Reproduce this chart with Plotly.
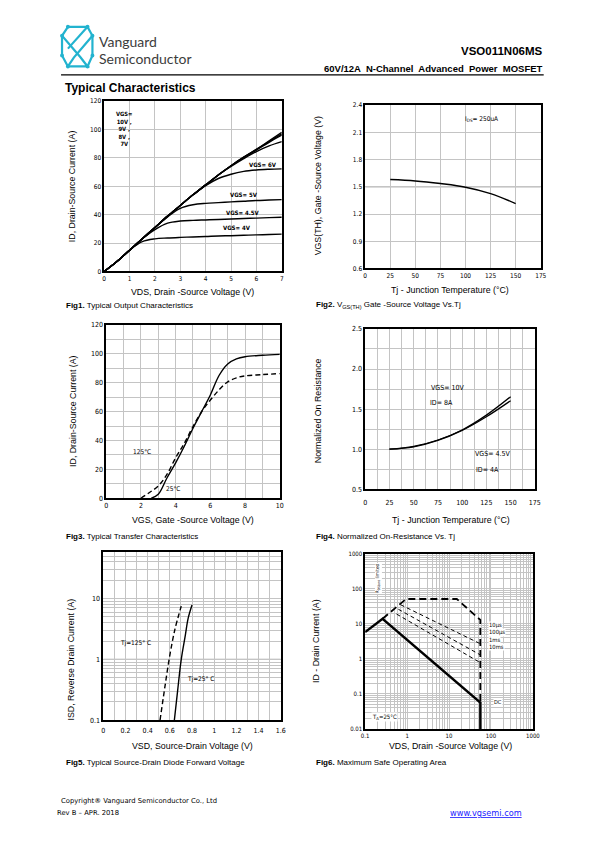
import plotly.graph_objects as go

PAGE_W, PAGE_H = 595, 842
OFF = 8  # default body margin of the written page
W, H = PAGE_W - 2 * OFF, PAGE_H - 2 * OFF

# ---------------- data ----------------
# Fig1 Typical Output Characteristics
f1_vds = [0, 0.5, 1, 1.5, 2, 2.5, 3, 3.5, 4, 4.5, 5, 5.5, 6, 6.5, 7]
f1_id_10v = [0, 7, 15, 23, 31, 39, 46.5, 54, 61, 68, 74.5, 80.5, 86, 92, 98]
f1_id_9v = [0, 7, 15, 23, 31, 39, 46.5, 54, 61, 68, 74.5, 80.5, 86, 91.5, 97]
f1_id_8v = [0, 7, 15, 23, 31, 39, 46.5, 54, 61, 68, 74.5, 80.3, 85.5, 91, 96]
f1_id_7v = [0, 7, 15, 23, 31, 39, 46.5, 54, 61, 68, 74, 79.5, 84.5, 88.5, 91.5]
f1_id_6v = [0, 7, 15, 23, 31, 39, 46.5, 54, 60.5, 65.5, 68.5, 70.5, 71.5, 72, 72.3]
f1_id_5v = [0, 7, 15, 23, 31, 38.5, 44.5, 47, 48, 48.5, 49, 49.5, 50, 50.3, 50.6]
f1_id_45v = [0, 7, 15, 23, 29.5, 34, 35.5, 36, 36.3, 36.6, 37, 37.3, 37.6, 37.9, 38.2]
f1_id_4v = [0, 7, 15, 21, 23, 23.6, 24, 24.3, 24.6, 25, 25.2, 25.5, 25.8, 26, 26.3]

# Fig2 VGS(TH) vs Tj
f2_tj = [25, 50, 75, 100, 125, 150]
f2_vth = [1.58, 1.565, 1.535, 1.495, 1.425, 1.315]

# Fig3 Transfer characteristics
f3_vgs_25 = [2.6, 3, 3.5, 4, 4.5, 5, 5.5, 6, 6.5, 7, 7.5, 8, 9, 10]
f3_id_25 = [0, 2.7, 14, 24.5, 36, 48.5, 60, 71.5, 85, 93, 96.5, 98, 99, 99.6]
f3_vgs_125 = [2, 2.5, 3, 3.5, 4, 4.5, 5, 5.5, 6, 6.5, 7, 7.5, 8, 9, 10]
f3_id_125 = [0, 4, 8.5, 16.5, 28, 38, 49.7, 60, 68, 75, 80.6, 83.4, 84.7, 85.6, 86.3]

# Fig4 Normalized on-resistance
f4_tj = [25, 50, 75, 100, 125, 150]
f4_r_10v = [1.0, 1.035, 1.115, 1.24, 1.425, 1.655]
f4_r_45v = [1.0, 1.03, 1.11, 1.235, 1.405, 1.605]

# Fig5 Source-drain diode forward voltage
f5_vsd_125 = [0.512, 0.55, 0.594, 0.644, 0.703]
f5_isd_125 = [0.1, 0.3, 1, 3, 7.5]
f5_vsd_25 = [0.641, 0.67, 0.703, 0.74, 0.765, 0.8]
f5_isd_25 = [0.1, 0.3, 1, 2.5, 4.7, 7.8]

# Fig6 Safe operating area
f6_dc_v = [0.1, 0.26, 55.7, 55.7]
f6_dc_i = [5.8, 13.9, 0.057, 0.01]
f6_10us_v = [0.26, 0.94, 15.3, 55.7, 55.7]
f6_10us_i = [13.9, 51, 51, 12.9, 0.06]
f6_100us_v = [0.70, 55.7]
f6_100us_i = [35, 2.7]
f6_1ms_v = [0.62, 55.7]
f6_1ms_i = [26, 1.3]
f6_10ms_v = [0.56, 55.7]
f6_10ms_i = [19, 0.78]

# ---------------- helpers ----------------
def px(x):
    return (x - OFF) / W


def py(y):
    return 1 - (y - OFF) / H


NARROW = "Liberation Sans Narrow, DejaVu Sans Condensed, Arial Narrow, sans-serif"
SANS = "Liberation Sans, Arial, sans-serif"
GRID = "#c4c4c4"

fig = go.Figure()


def line(x, y, ax, dash="solid", width=1.4, shape="spline"):
    fig.add_trace(go.Scatter(
        x=x, y=y, xaxis="x" + ax, yaxis="y" + ax, mode="lines",
        line=dict(color="black", width=width, dash=dash, shape=shape),
        showlegend=False, hoverinfo="skip"))


for series in [f1_id_10v, f1_id_9v, f1_id_8v, f1_id_7v, f1_id_6v,
               f1_id_5v, f1_id_45v, f1_id_4v]:
    line(f1_vds, series, "")

line(f2_tj, f2_vth, "2", width=1.5)

line(f3_vgs_25, f3_id_25, "3", width=1.4)
line(f3_vgs_125, f3_id_125, "3", dash="5px,3px", width=1.4)

line(f4_tj, f4_r_10v, "4", width=1.3)
line(f4_tj, f4_r_45v, "4", width=1.3)

line(f5_vsd_125, f5_isd_125, "5", dash="5px,3px", width=1.4)
line(f5_vsd_25, f5_isd_25, "5", width=1.4)

line(f6_dc_v, f6_dc_i, "6", width=2.4, shape="linear")
line(f6_10us_v, f6_10us_i, "6", dash="7px,4px", width=1.8, shape="linear")
line(f6_100us_v, f6_100us_i, "6", dash="4px,3px", width=1.0, shape="linear")
line(f6_1ms_v, f6_1ms_i, "6", dash="4px,3px", width=1.0, shape="linear")
line(f6_10ms_v, f6_10ms_i, "6", dash="4px,3px", width=1.0, shape="linear")


def mkaxis(dom, rng, anchor, tickfont=7, **kw):
    d = dict(domain=dom, range=rng, anchor=anchor, showline=True, mirror=True,
             linecolor="black", linewidth=1.5, showgrid=True, gridcolor=GRID,
             gridwidth=1, zeroline=False, ticks="",
             tickfont=dict(family=NARROW, size=tickfont, color="black"))
    d.update(kw)
    return d


layout = dict(
    width=W, height=H, margin=dict(l=0, r=0, t=0, b=0),
    paper_bgcolor="white", plot_bgcolor="white", showlegend=False,
)

# Fig1
layout["xaxis"] = mkaxis([px(102), px(283)], [0, 7], "y", 6.5, dtick=1)
layout["yaxis"] = mkaxis([py(270), py(98)], [0, 120], "x", 6.5, dtick=20)
# Fig2
layout["xaxis2"] = mkaxis([px(368), px(547)], [0, 175], "y2", 6.5, dtick=25)
layout["yaxis2"] = mkaxis([py(267), py(102)], [0.6, 2.4], "x2", 6.5, dtick=0.3,
                          tickformat=".1f")
# Fig3
layout["xaxis3"] = mkaxis([px(104), px(281)], [0, 10], "y3", 7, dtick=2,
                          minor=dict(dtick=1, showgrid=True, gridcolor=GRID))
layout["yaxis3"] = mkaxis([py(499), py(324)], [0, 120], "x3", 7, dtick=20,
                          minor=dict(dtick=10, showgrid=True, gridcolor=GRID))
# Fig4
layout["xaxis4"] = mkaxis([px(368), px(541)], [0, 175], "y4", 7, dtick=25,
                          minor=dict(dtick=12.5, showgrid=True, gridcolor=GRID),
                          ticklabelstandoff=6)
layout["yaxis4"] = mkaxis([py(490), py(328)], [0.5, 2.5], "x4", 7, dtick=0.5,
                          tickformat=".1f",
                          minor=dict(dtick=0.25, showgrid=True, gridcolor=GRID))
# Fig5
layout["xaxis5"] = mkaxis([px(101), px(282)], [0, 1.6], "y5", 7, dtick=0.2,
                          minor=dict(dtick=0.1, showgrid=True, gridcolor=GRID),
                          ticklabelstandoff=3)
layout["yaxis5"] = mkaxis([py(723), py(553)], [-1, 1.77], "x5", 7, type="log",
                          tickvals=[0.1, 1, 10], ticktext=["0.1", "1", "10"],
                          minor=dict(dtick="D1", showgrid=True, gridcolor=GRID))
# Fig6
layout["xaxis6"] = mkaxis([px(368), px(539)], [-1, 3], "y6", 6, type="log",
                          tickvals=[0.1, 1, 10, 100, 1000],
                          ticktext=["0.1", "1", "10", "100", "1000"],
                          minor=dict(dtick="D1", showgrid=True, gridcolor=GRID),
                          ticklabelstandoff=0)
layout["yaxis6"] = mkaxis([py(732), py(555)], [-2, 3], "x6", 6, type="log",
                          tickvals=[0.01, 0.1, 1, 10, 100, 1000],
                          ticktext=["0.01", "0.1", "1", "10", "100", "1000"],
                          minor=dict(dtick="D1", showgrid=True, gridcolor=GRID))

anns = []


def ann(x, y, text, size=8, xanchor="center", family=SANS, angle=0,
        color="black", bg=None):
    a = dict(x=px(x), y=py(y), xref="paper", yref="paper", text=text,
             showarrow=False, xanchor=xanchor, yanchor="middle", textangle=angle,
             font=dict(family=family, size=size, color=color), borderpad=0)
    if bg:
        a["bgcolor"] = bg
    anns.append(a)


# header
ann(96, 38, "Vanguard", 14, "left", "Lato, Open Sans, sans-serif", color="#3c3c3c")
ann(96, 55, "Semiconductor", 14, "left", "Lato, Open Sans, sans-serif", color="#3c3c3c")
ann(550, 47, "<b>VSO011N06MS</b>", 11.5, "right")
ann(550, 65, "<b>60V/12A  N-Channel  Advanced  Power  MOSFET</b>", 9.5, "right")
ann(61, 85, "<b>Typical Characteristics</b>", 12, "left")

# axis titles
TS = 8.8
ann(192, 291, "VDS, Drain -Source Voltage (V)", TS)
ann(69, 184, "ID, Drain-Source Current (A)", TS, angle=-90)
ann(454, 289, "Tj - Junction Temperature (°C)", TS)
ann(320, 184, "VGS(TH), Gate -Source Voltage (V)", TS, angle=-90)
ann(192, 521, "VGS, Gate -Source Voltage (V)", TS)
ann(70, 411, "ID, Drain-Source Current (A)", TS, angle=-90)
ann(456, 521, "Tj - Junction Temperature (°C)", TS)
ann(320, 411, "Normalized On Resistance", TS, angle=-90)
ann(192, 749, "VSD, Source-Drain Voltage (V)", TS)
ann(68, 662, "ISD, Reverse Drain Current (A)", TS, angle=-90)
ann(455, 749, "VDS, Drain -Source Voltage (V)", TS)
ann(318, 643, "ID - Drain Current (A)", TS, angle=-90)

# captions
CS = 8
ann(62, 304, "<b>Fig1.</b> Typical Output Characteristics", CS, "left")
ann(317, 304, "<b>Fig2.</b> V<sub>GS(TH)</sub> Gate -Source Voltage Vs.Tj", CS, "left")
ann(62, 538, "<b>Fig3.</b> Typical Transfer Characteristics", CS, "left")
ann(317, 538, "<b>Fig4.</b> Normalized On-Resistance Vs. Tj", CS, "left")
ann(62, 766, "<b>Fig5.</b> Typical Source-Drain Diode Forward Voltage", CS, "left")
ann(317, 766, "<b>Fig6.</b> Maximum Safe Operating Area", CS, "left")

# in-plot labels
ann(113, 126, "<b>VGS=<br>10V ,<br>9V ,<br>8V ,<br>7V</b>", 5.8, "left", NARROW)
ann(264, 162, "<b>VGS= 6V</b>", 6, family=NARROW)
ann(245, 192, "<b>VGS= 5V</b>", 6, family=NARROW)
ann(243, 210, "<b>VGS= 4.5V</b>", 6, family=NARROW)
ann(237, 226, "<b>VGS= 4V</b>", 6, family=NARROW)
ann(487, 116, "I<sub>DS</sub>= 250uA", 6.5, family=NARROW)
ann(141, 452, "125°C", 6.5, family=NARROW)
ann(172, 490, "25°C", 6.5, family=NARROW)
ann(452, 388, "VGS= 10V", 7, family=NARROW)
ann(446, 403, "ID= 8A", 7, family=NARROW)
ann(498, 454, "VGS= 4.5V", 7, family=NARROW)
ann(493, 470, "ID= 4A", 7, family=NARROW)
ann(134, 645, "Tj=125° C", 6.5, family=NARROW)
ann(200, 682, "Tj=25° C", 6.5, family=NARROW)
ann(382, 580, "R<sub>DS(on)</sub> limited", 4.8, family=NARROW, angle=-90, bg="white")
ann(493, 628, "10μs", 5.8, "left", NARROW, bg="white")
ann(493, 635, "100μs", 5.8, "left", NARROW, bg="white")
ann(493, 642, "1ms", 5.8, "left", NARROW, bg="white")
ann(493, 649, "10ms", 5.8, "left", NARROW, bg="white")
ann(498, 705, "DC", 5.5, "left", NARROW, bg="white")
ann(388, 720, "T<sub>A</sub>=25°C", 6, family=NARROW, bg="white")

# footer
ann(57, 805, "Copyright® Vanguard Semiconductor Co., Ltd", 6.8, "left", "DejaVu Sans, sans-serif")
ann(53, 817, "Rev B – APR. 2018", 6.8, "left", "DejaVu Sans, sans-serif")
ann(529, 817, "<span style='text-decoration:underline'>www.vgsemi.com</span>", 8.2,
    "right", "DejaVu Sans, sans-serif", color="#1a1aff")

layout["annotations"] = anns

# shapes: header rule, emphasised grid lines, logo
shapes = [
    dict(type="line", xref="paper", yref="paper", x0=px(58), x1=px(550),
         y0=py(71.5), y1=py(71.5), line=dict(color="black", width=1.2)),
    dict(type="line", xref="x2", yref="y2", x0=0, x1=175, y0=1.5, y1=1.5,
         line=dict(color="#808080", width=1), layer="below"),
    dict(type="line", xref="x5", yref="y5", x0=0, x1=1.6, y0=1, y1=1,
         line=dict(color="#909090", width=1), layer="below"),
]

CY = "#22b3cf"
logo_paths = [
    [(65, 23), (85, 23), (90, 32), (71, 54), (65, 63)],
    [(85, 23), (65, 45)],
    [(65, 23), (59, 32), (78, 54), (85, 63), (65, 63)],
    [(59, 32), (59, 52), (65, 63)],
    [(90, 32), (90, 52), (85, 63)],
]
for pts in logo_paths:
    d = "M " + " L ".join(f"{px(x):.5f},{py(y):.5f}" for x, y in pts)
    shapes.append(dict(type="path", xref="paper", yref="paper", path=d,
                       line=dict(color=CY, width=2.2)))
for x, y in [(65, 23), (85, 23), (59, 32), (90, 32), (59, 52), (90, 52),
             (65, 63), (85, 63)]:
    shapes.append(dict(type="circle", xref="paper", yref="paper",
                       x0=px(x - 2), x1=px(x + 2), y0=py(y + 2), y1=py(y - 2),
                       fillcolor=CY, line=dict(color=CY, width=0)))

layout["shapes"] = shapes
fig.update_layout(**layout)
fig.write_html("out.html")
